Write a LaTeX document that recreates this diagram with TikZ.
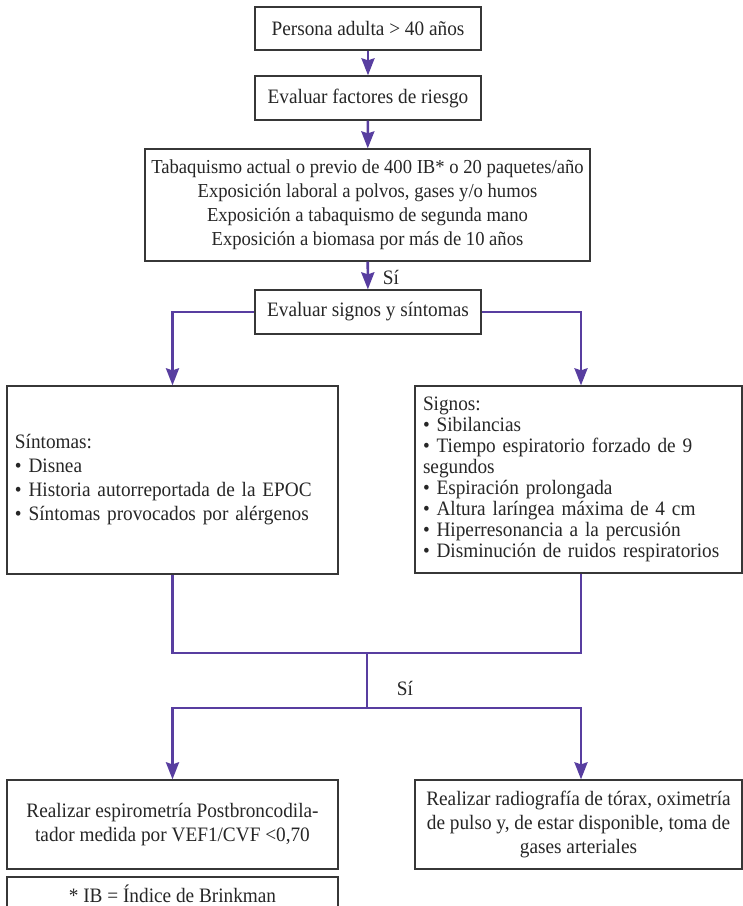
\documentclass[tikz,border=0pt]{standalone}
\usepackage{fontspec}
\setmainfont[FakeStretch=0.94]{Liberation Serif}
\usetikzlibrary{arrows.meta}
\definecolor{morado}{RGB}{88,62,160}
\definecolor{borde}{RGB}{55,55,55}

\begin{document}
\begin{tikzpicture}[x=1pt, y=-1pt,
  every node/.style={font=\fontsize{20.5}{24}\selectfont, text=black!85},
  caja/.style 2 args={draw=borde, line width=1.3pt, minimum width=#1, minimum height=#2, inner sep=0pt, align=center},
  linea/.style={draw=morado, line width=2.6pt},
  flecha/.style={linea, -{Stealth[length=17pt, width=13pt, inset=2pt]}}]
  \useasboundingbox (0,0) rectangle (743,906);

  % 上部流程
  \node[caja={226}{43}] (adulto) at (368,28.5) {Persona adulta > 40 años};
  \node[caja={226}{44}] (riesgo) at (368,98) {Evaluar factores de riesgo};
  \node[caja={445}{112}, font=\fontsize{19.8}{24}\selectfont] (factores) at (367.5,205) {Tabaquismo actual o previo de 400 IB* o 20 paquetes/año\\
    Exposición laboral a polvos, gases y/o humos\\
    Exposición a tabaquismo de segunda mano\\
    Exposición a biomasa por más de 10 años};
  \node[caja={226}{44}] (evaluar) at (368,312) {Evaluar signos y síntomas};

  % 症状与体征
  \node[caja={331}{188}, align=left, text width=315] (sintomas) at (172.5,480) {Síntomas:\\
    • Disnea\\
    • Historia autorreportada de la EPOC\\
    • Síntomas provocados por alérgenos};
  \node[caja={327}{187}, align=left, text width=311, font=\fontsize{20.5}{21}\selectfont] (signos) at (578.5,479.5) {Signos:\\
    • Sibilancias\\
    • Tiempo espiratorio forzado de 9\\
    segundos\\
    • Espiración prolongada\\
    • Altura laríngea máxima de 4 cm\\
    • Hiperresonancia a la percusión\\
    • Disminución de ruidos respiratorios};

  % 下部
  \node[caja={331}{89}] (espiro) at (172.5,824.5) {Realizar espirometría Postbroncodila-\\tador medida por VEF1/CVF <0,70};
  \node[caja={327}{89}] (radio) at (578.5,824.5) {Realizar radiografía de tórax, oximetría\\de pulso y, de estar disponible, toma de\\gases arteriales};
  \node[caja={331}{33}] (nota) at (172.5,893.5) {* IB = Índice de Brinkman};

  % 连线
  \draw[flecha] (adulto) -- (riesgo);
  \draw[flecha] (riesgo) -- (factores);
  \draw[flecha] (factores) -- (evaluar);
  \node (si1) at (391,277) {Sí};
  \draw[flecha] (evaluar.west) -| (sintomas.north);
  \draw[flecha] (evaluar.east) -| ([xshift=2.5pt]signos.north);

  \coordinate (union) at (367,653);
  \coordinate (reparto) at (367,708);
  \draw[linea] (sintomas.south) |- (union);
  \draw[linea] ([xshift=2.5pt]signos.south) |- (union);
  \draw[linea] (union) -- (reparto);
  \node (si2) at (405,688) {Sí};
  \draw[flecha] (reparto) -| (espiro.north);
  \draw[flecha] (reparto) -| ([xshift=2.5pt]radio.north);
\end{tikzpicture}
\end{document}
